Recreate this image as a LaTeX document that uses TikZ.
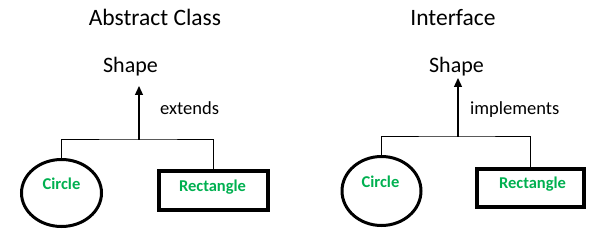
\documentclass[tikz,border=0pt]{standalone}
\usepackage{fontspec}
\setmainfont{Carlito}
\usetikzlibrary{shapes.geometric,arrows.meta}
\definecolor{offgreen}{HTML}{00B050}
\tikzset{
  title/.style={anchor=base,inner sep=0pt,font=\fontsize{23.5}{28}\selectfont},
  cls/.style={anchor=base,inner sep=0pt,font=\fontsize{22}{26}\selectfont},
  rel/.style={anchor=base west,inner sep=0pt,font=\fontsize{18.5}{22}\selectfont},
  child/.style={text=offgreen,font=\bfseries\fontsize{16.5}{20}\selectfont},
  oval/.style={ellipse,draw,line width=3pt,inner sep=0pt},
  box/.style={rectangle,draw,line width=4pt,inner sep=0pt},
  conn/.style={line width=1pt},
  inh/.style={line width=1.3pt,-{Triangle[length=9pt,width=8pt]}}
}
\begin{document}
\begin{tikzpicture}[x=1pt,y=-1pt]
\useasboundingbox (0,0) rectangle (603,240);
% left panel
\node[title] (tA) at (155,26) {Abstract Class};
\node[cls] (sA) at (130.5,73) {Shape};
\node[rel] (eA) at (160,115) {extends};
\node[oval,minimum width=80pt,minimum height=67pt] (cA) at (61.5,193) {};
\node[child,anchor=base] (cAt) at (61.5,189.5) {Circle};
\node[box,minimum width=109pt,minimum height=39pt] (rA) at (213,190.5) {};
\node[child,anchor=base] (rAt) at (212.5,192) {Rectangle};
\coordinate (jA) at (139,140);
\coordinate (aA) at (139,86);
\draw[conn] (cA.north) |- (jA) -| (rA.north);
\draw[inh] (jA) -- (aA);
% right panel
\node[title] (tB) at (453,26) {Interface};
\node[cls] (sB) at (456.5,73) {Shape};
\node[rel] (eB) at (470,115) {implements};
\node[oval,minimum width=79pt,minimum height=69pt] (cB) at (381.5,191) {};
\node[child,anchor=base] (cBt) at (380.5,187.5) {Circle};
\node[box,minimum width=107pt,minimum height=38pt] (rB) at (530.5,188) {};
\node[child,anchor=base] (rBt) at (532.5,188.5) {Rectangle};
\coordinate (jB) at (458,137);
\coordinate (aB) at (458,78);
\draw[conn] (cB.north) |- (jB) -| (rB.north);
\draw[inh] (jB) -- (aB);
\end{tikzpicture}
\end{document}
